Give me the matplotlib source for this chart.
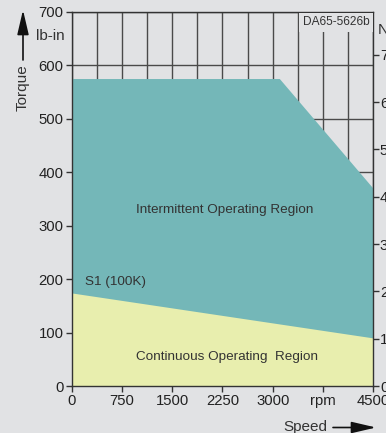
import matplotlib
matplotlib.use("Agg")
import matplotlib.pyplot as plt
from matplotlib.patches import FancyArrowPatch
from matplotlib.ticker import MultipleLocator

plt.rcParams['font.family'] = ['Liberation Sans', 'DejaVu Sans']

# operating envelope (speed in rpm, torque in lb-in)
intermittent_speed = [0, 3100, 4500]
intermittent_torque = [575, 575, 370]
continuous_speed = [0, 4500]
continuous_torque = [174, 90]

x_ticks = [0, 750, 1500, 2250, 3000, 3750, 4500]
x_labels = ['0', '750', '1500', '2250', '3000', 'rpm', '4500']
y_ticks = [0, 100, 200, 300, 400, 500, 600, 700]
nm_ticks = [0, 10, 20, 30, 40, 50, 60, 70]
LBIN_PER_NM = 8.85

bg = '#e1e2e4'
teal = '#74b7b8'
yellow = '#e8eeae'
dark = '#333333'

fig = plt.figure(figsize=(3.86, 4.33), dpi=100, facecolor=bg)
ax = fig.add_axes([0.1865, 0.1085, 0.7798, 0.8645], facecolor=bg)

ax.fill_between(intermittent_speed, 0, intermittent_torque, color=teal, lw=0, zorder=2)
ax.fill_between(continuous_speed, 0, continuous_torque, color=yellow, lw=0, zorder=3)

ax.set_xlim(0, 4500)
ax.set_ylim(0, 700)
ax.set_xticks(x_ticks)
ax.set_xticklabels(x_labels)
ax.set_yticks(y_ticks)
ax.xaxis.set_minor_locator(MultipleLocator(375))
ax.tick_params(which='minor', length=0)
ax.tick_params(which='major', direction='out', length=4, width=1, color=dark,
               labelsize=10.7, labelcolor='#222222', pad=2)
ax.grid(True, which='both', axis='x', color='#4a4a4a', lw=1)
ax.grid(True, which='major', axis='y', color='#4a4a4a', lw=1)
ax.set_axisbelow(True)
for s in ax.spines.values():
    s.set_color(dark)
    s.set_linewidth(1)
    s.set_zorder(5)

# torque in Nm on the right
ax2 = ax.twinx()
ax2.set_ylim(0, 700 / LBIN_PER_NM)
ax2.set_yticks(nm_ticks)
ax2.tick_params(direction='out', length=4, width=1, color=dark,
                labelsize=10.7, labelcolor='#222222', pad=1)
for s in ax2.spines.values():
    s.set_visible(False)

ax.text(2290, 329, 'Intermittent Operating Region', fontsize=9.7, color=dark,
        ha='center', va='center', zorder=6)
ax.text(195, 195, 'S1 (100K)', fontsize=9.7, color=dark, ha='left', va='center', zorder=6)
ax.text(2320, 54, 'Continuous Operating  Region', fontsize=9.7, color=dark,
        ha='center', va='center', zorder=6)
ax.text(4450, 680, 'DA65-5626b', fontsize=8.6, color=dark, ha='right', va='center', zorder=6,
        bbox=dict(boxstyle='square,pad=0.3', fc=bg, ec='none'))

# axis captions with arrows
fig.text(23 / 386, 1 - 88 / 433, 'Torque', rotation=90, fontsize=11, color=dark,
         ha='center', va='center')
fig.text(50 / 386, 1 - 36 / 433, 'lb-in', fontsize=11, color=dark, ha='center', va='center')
fig.text(305 / 386, 1 - 427 / 433, 'Speed', fontsize=11, color=dark, ha='center', va='center')
fig.text(378 / 386, 1 - 30 / 433, 'Nm', fontsize=11, color=dark, ha='left', va='center')

arrow = dict(arrowstyle='-|>,head_length=1.5,head_width=0.35', mutation_scale=10,
             color='#111111', lw=1.2, shrinkA=0, shrinkB=0)
fig.add_artist(FancyArrowPatch(
    (23 / 386, 1 - 60 / 433), (23 / 386, 1 - 10 / 433),
    transform=fig.transFigure, **arrow))
fig.add_artist(FancyArrowPatch(
    (333 / 386, 1 - 427.5 / 433), (376 / 386, 1 - 427.5 / 433),
    transform=fig.transFigure, **arrow))

fig.savefig('out.png', dpi=100, facecolor=bg)
